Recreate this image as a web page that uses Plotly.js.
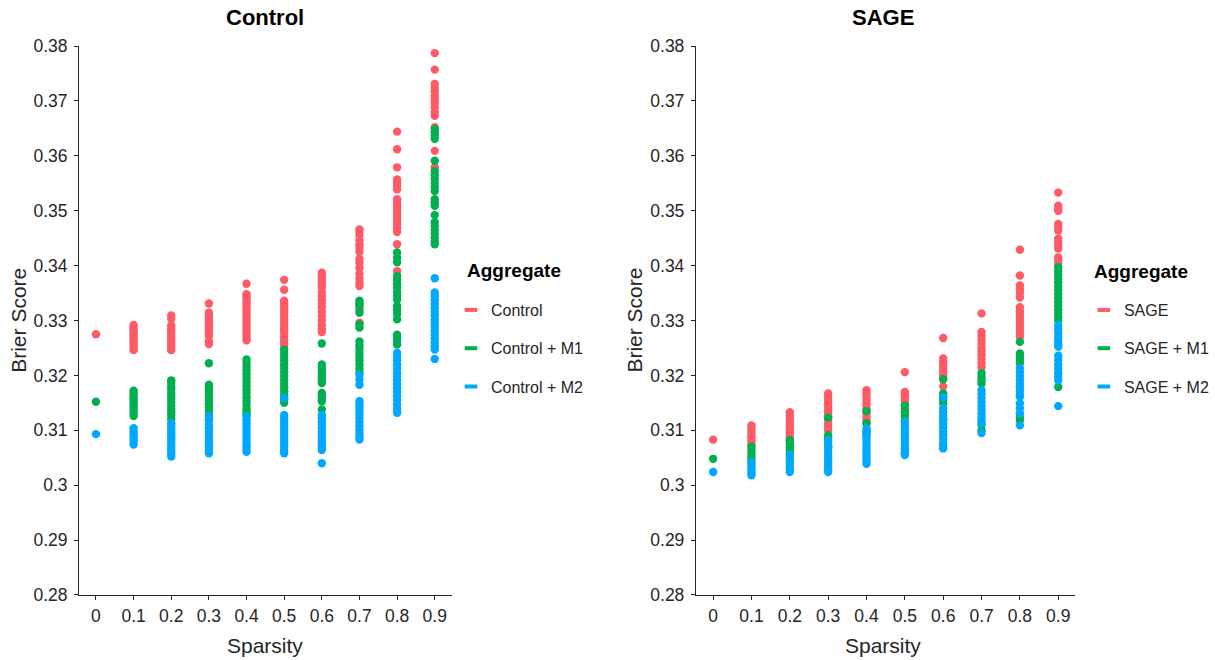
<!DOCTYPE html>
<html>
<head>
<meta charset="utf-8">
<script src="https://cdn.plot.ly/plotly-3.0.1.min.js"></script>
<style>html,body{margin:0;padding:0;background:#fff;}#chart{width:1215px;height:660px;}</style>
</head>
<body>
<div id="chart"></div>
<script>
const sparsity = [0, 0.1, 0.2, 0.3, 0.4, 0.5, 0.6, 0.7, 0.8, 0.9];
const sparsityLabels = ['0', '0.1', '0.2', '0.3', '0.4', '0.5', '0.6', '0.7', '0.8', '0.9'];
const yTickVals = [0.28, 0.29, 0.30, 0.31, 0.32, 0.33, 0.34, 0.35, 0.36, 0.37, 0.38];
const yTickText = ['0.28', '0.29', '0.3', '0.31', '0.32', '0.33', '0.34', '0.35', '0.36', '0.37', '0.38'];

// ---- Control panel ----
const controlY = [
  [0.3275],
  [0.3292,0.3288,0.3284,0.3280,0.3276,0.3272,0.3268,0.3263,0.3259,0.3255,0.3250,0.3246],
  [0.3309,0.3303,0.3291,0.3286,0.3281,0.3276,0.3271,0.3266,0.3261,0.3256,0.3251,0.3246],
  [0.3331,0.3314,0.3309,0.3304,0.3299,0.3294,0.3289,0.3284,0.3278,0.3272,0.3262,0.3257],
  [0.3367,0.3348,0.3344,0.3339,0.3334,0.3329,0.3324,0.3318,0.3312,0.3306,0.3300,0.3294,0.3288,0.3282,0.3275,0.3269,0.3264],
  [0.3374,0.3356,0.3336,0.3331,0.3326,0.3320,0.3314,0.3308,0.3302,0.3296,0.3290,0.3284,0.3278,0.3271,0.3264,0.3258,0.3254],
  [0.3387,0.3383,0.3378,0.3372,0.3366,0.3360,0.3352,0.3345,0.3338,0.3331,0.3324,0.3316,0.3308,0.3300,0.3292,0.3285,0.3279],
  [0.3466,0.3461,0.3455,0.3446,0.3438,0.3432,0.3425,0.3412,0.3405,0.3396,0.3385,0.3376,0.3368,0.3363,0.3330,0.3318,0.3296],
  [0.3644,0.3612,0.3579,0.3557,0.3551,0.3545,0.3539,0.3521,0.3515,0.3509,0.3502,0.3496,0.3489,0.3482,0.3475,0.3468,0.3461,0.3439,0.3390],
  [0.3787,0.3757,0.3731,0.3724,0.3717,0.3710,0.3703,0.3696,0.3688,0.3680,0.3673,0.3652,0.3609,0.3579]
];
const controlM1Y = [
  [0.3152],
  [0.3172,0.3167,0.3162,0.3157,0.3152,0.3147,0.3142,0.3137,0.3131,0.3126],
  [0.3191,0.3186,0.3180,0.3175,0.3169,0.3163,0.3157,0.3151,0.3145,0.3139,0.3133,0.3127,0.3120],
  [0.3222,0.3183,0.3178,0.3172,0.3166,0.3160,0.3154,0.3148,0.3142,0.3135,0.3128,0.3120],
  [0.3229,0.3223,0.3216,0.3209,0.3202,0.3195,0.3188,0.3181,0.3174,0.3167,0.3160,0.3153,0.3146,0.3139,0.3133,0.3128],
  [0.3247,0.3241,0.3234,0.3227,0.3220,0.3213,0.3206,0.3199,0.3192,0.3185,0.3178,0.3171,0.3164,0.3156,0.3150],
  [0.3258,0.3220,0.3214,0.3208,0.3202,0.3196,0.3190,0.3186,0.3168,0.3162,0.3157,0.3153,0.3138],
  [0.3336,0.3330,0.3324,0.3314,0.3293,0.3287,0.3262,0.3255,0.3248,0.3241,0.3234,0.3227,0.3220,0.3212,0.3205],
  [0.3424,0.3415,0.3406,0.3381,0.3374,0.3367,0.3360,0.3352,0.3345,0.3338,0.3326,0.3319,0.3312,0.3302,0.3274,0.3268,0.3262,0.3256],
  [0.3649,0.3643,0.3637,0.3631,0.3591,0.3572,0.3565,0.3558,0.3551,0.3543,0.3536,0.3521,0.3515,0.3509,0.3492,0.3479,0.3472,0.3465,0.3458,0.3451,0.3444,0.3439]
];
const controlM2Y = [
  [0.3093],
  [0.3104,0.3099,0.3094,0.3089,0.3084,0.3079,0.3074],
  [0.3113,0.3108,0.3103,0.3098,0.3093,0.3088,0.3083,0.3078,0.3073,0.3068,0.3063,0.3058,0.3052],
  [0.3125,0.3118,0.3110,0.3104,0.3098,0.3092,0.3086,0.3080,0.3074,0.3068,0.3063,0.3058],
  [0.3125,0.3119,0.3113,0.3107,0.3101,0.3095,0.3089,0.3083,0.3077,0.3071,0.3066,0.3061],
  [0.3159,0.3128,0.3122,0.3116,0.3110,0.3104,0.3098,0.3092,0.3086,0.3080,0.3074,0.3068,0.3063,0.3058],
  [0.3128,0.3122,0.3116,0.3110,0.3104,0.3098,0.3092,0.3086,0.3080,0.3074,0.3069,0.3064,0.3040],
  [0.3201,0.3192,0.3183,0.3153,0.3147,0.3141,0.3135,0.3129,0.3122,0.3115,0.3108,0.3101,0.3094,0.3088,0.3083],
  [0.3241,0.3234,0.3227,0.3220,0.3212,0.3205,0.3198,0.3191,0.3184,0.3177,0.3170,0.3162,0.3155,0.3147,0.3139,0.3132],
  [0.3377,0.3351,0.3344,0.3337,0.3330,0.3323,0.3316,0.3309,0.3302,0.3295,0.3288,0.3281,0.3274,0.3267,0.3260,0.3253,0.3247,0.3230]
];

// ---- SAGE panel ----
const sageY = [
  [0.3083],
  [0.3109,0.3104,0.3099,0.3094,0.3089,0.3084,0.3079,0.3073],
  [0.3133,0.3127,0.3121,0.3115,0.3109,0.3103,0.3097,0.3091,0.3085,0.3082],
  [0.3167,0.3161,0.3155,0.3149,0.3143,0.3137,0.3131,0.3125,0.3119,0.3112,0.3106,0.3100],
  [0.3173,0.3167,0.3161,0.3155,0.3149,0.3143,0.3137,0.3131,0.3124,0.3118,0.3112],
  [0.3206,0.3170,0.3165,0.3160,0.3155,0.3149],
  [0.3268,0.3231,0.3225,0.3219,0.3213,0.3207,0.3201,0.3197,0.3180],
  [0.3313,0.3279,0.3272,0.3265,0.3258,0.3251,0.3244,0.3237,0.3230,0.3222,0.3215],
  [0.3429,0.3382,0.3364,0.3357,0.3350,0.3342,0.3324,0.3317,0.3310,0.3303,0.3296,0.3289,0.3282,0.3276,0.3270],
  [0.3533,0.3509,0.3504,0.3500,0.3476,0.3470,0.3464,0.3449,0.3443,0.3437,0.3431,0.3415,0.3410,0.3404]
];
const sageM1Y = [
  [0.3048],
  [0.3070,0.3064,0.3058,0.3052,0.3046],
  [0.3082,0.3076,0.3070,0.3064,0.3058],
  [0.3123,0.3091,0.3086,0.3070],
  [0.3135,0.3113,0.3098,0.3094],
  [0.3145,0.3139,0.3133,0.3126,0.3118,0.3058],
  [0.3193,0.3167,0.3161,0.3155,0.3149,0.3120],
  [0.3204,0.3197,0.3191,0.3185,0.3110,0.3100],
  [0.3261,0.3240,0.3234,0.3228,0.3222,0.3124,0.3118],
  [0.3397,0.3390,0.3383,0.3376,0.3369,0.3362,0.3355,0.3348,0.3341,0.3334,0.3327,0.3320,0.3313,0.3306,0.3300,0.3179]
];
const sageM2Y = [
  [0.3024],
  [0.3042,0.3037,0.3032,0.3027,0.3022,0.3018],
  [0.3055,0.3050,0.3045,0.3040,0.3035,0.3030,0.3024],
  [0.3082,0.3076,0.3070,0.3064,0.3058,0.3052,0.3046,0.3040,0.3034,0.3029,0.3024],
  [0.3103,0.3097,0.3091,0.3085,0.3079,0.3073,0.3067,0.3061,0.3055,0.3049,0.3044,0.3039],
  [0.3115,0.3109,0.3103,0.3097,0.3091,0.3085,0.3079,0.3073,0.3067,0.3061,0.3055],
  [0.3160,0.3140,0.3133,0.3126,0.3119,0.3112,0.3105,0.3098,0.3091,0.3084,0.3077,0.3072,0.3067],
  [0.3173,0.3166,0.3159,0.3152,0.3145,0.3138,0.3131,0.3124,0.3118,0.3113,0.3095],
  [0.3213,0.3206,0.3199,0.3192,0.3185,0.3178,0.3171,0.3164,0.3161,0.3149,0.3140,0.3131,0.3109],
  [0.3291,0.3284,0.3277,0.3270,0.3263,0.3256,0.3252,0.3236,0.3228,0.3220,0.3212,0.3205,0.3198,0.3191,0.3144]
];

const colors = ['#FF5A66', '#00B04F', '#00A8FF'];
const FONT = 'Liberation Sans, Arial, sans-serif';

function flatten(groups) {
  const x = [], y = [];
  groups.forEach((vals, i) => vals.forEach(v => { x.push(sparsity[i]); y.push(v); }));
  return {x, y};
}

function panelTraces(groupsList, names, xa, ya, legendId) {
  const traces = [];
  groupsList.forEach((g, k) => {
    const d = flatten(g);
    traces.push({
      type: 'scatter', mode: 'markers', x: d.x, y: d.y, xaxis: xa, yaxis: ya,
      marker: {color: colors[k], size: 8.4}, showlegend: false, name: names[k], hoverinfo: 'x+y+name'
    });
  });
  groupsList.forEach((g, k) => {
    traces.push({
      type: 'scatter', mode: 'markers', x: [null], y: [null], xaxis: xa, yaxis: ya,
      name: names[k], legend: legendId, legendgroup: legendId + k, showlegend: true,
      marker: {symbol: 'line-ew', size: 9, color: colors[k], line: {color: colors[k], width: 4}}
    });
  });
  return traces;
}

const data = [].concat(
  panelTraces([controlY, controlM1Y, controlM2Y], ['Control', 'Control + M1', 'Control + M2'], 'x', 'y', 'legend'),
  panelTraces([sageY, sageM1Y, sageM2Y], ['SAGE', 'SAGE + M1', 'SAGE + M2'], 'x2', 'y2', 'legend2')
);

const axisColor = '#262626';
function xAxis(domain, anchor) {
  return {
    domain: domain, anchor: anchor, range: [-0.045, 0.945],
    tickvals: sparsity, ticktext: sparsityLabels,
    showline: true, linecolor: axisColor, linewidth: 1,
    ticks: 'outside', ticklen: 4, tickcolor: axisColor, tickwidth: 1,
    showgrid: false, zeroline: false,
    tickfont: {family: FONT, size: 17.5, color: axisColor}, ticklabelstandoff: 1
  };
}
function yAxis(anchor) {
  return {
    domain: [0.0985, 0.9303], anchor: anchor, range: [0.28, 0.38],
    tickvals: yTickVals, ticktext: yTickText,
    showline: true, linecolor: axisColor, linewidth: 1,
    ticks: 'outside', ticklen: 4, tickcolor: axisColor, tickwidth: 1,
    showgrid: false, zeroline: false,
    tickfont: {family: FONT, size: 17.5, color: axisColor}, ticklabelstandoff: 3
  };
}

const legendBase = {
  yanchor: 'top', xanchor: 'left', y: 1 - 293 / 660,
  bgcolor: 'rgba(0,0,0,0)', traceorder: 'grouped', tracegroupgap: 14.5,
  font: {family: FONT, size: 16, color: axisColor}
};

function ann(text, x, y, size, color, opts) {
  return Object.assign({text: text, xref: 'paper', yref: 'paper', x: x / 1215, y: 1 - y / 660,
    xanchor: 'center', yanchor: 'middle', showarrow: false, font: {family: FONT, size: size, color: color}}, opts || {});
}

const layout = {
  width: 1215, height: 660,
  margin: {l: 0, r: 0, t: 0, b: 0},
  paper_bgcolor: '#fff', plot_bgcolor: '#fff',
  font: {family: FONT},
  xaxis: xAxis([0.0658, 0.3761], 'y'),
  yaxis: yAxis('x'),
  xaxis2: xAxis([0.5794, 0.8955], 'y2'),
  yaxis2: yAxis('x2'),
  legend: Object.assign({}, legendBase, {x: 0.3755}),
  legend2: Object.assign({}, legendBase, {x: 0.9025}),
  annotations: [
    ann('<b>Control</b>', 268, 18, 22, '#000'),
    ann('<b>SAGE</b>', 893, 18, 22, '#000'),
    ann('Sparsity', 268, 645, 21, axisColor),
    ann('Sparsity', 893, 645, 21, axisColor),
    ann('Brier Score', 18, 320, 21, axisColor, {textangle: -90}),
    ann('Brier Score', 641, 320, 21, axisColor, {textangle: -90}),
    ann('<b>Aggregate</b>', 470, 270, 19, '#000', {xanchor: 'left'}),
    ann('<b>Aggregate</b>', 1105, 271, 19, '#000', {xanchor: 'left'})
  ]
};

Plotly.newPlot('chart', data, layout, {displayModeBar: false, staticPlot: true});
</script>
</body>
</html>
